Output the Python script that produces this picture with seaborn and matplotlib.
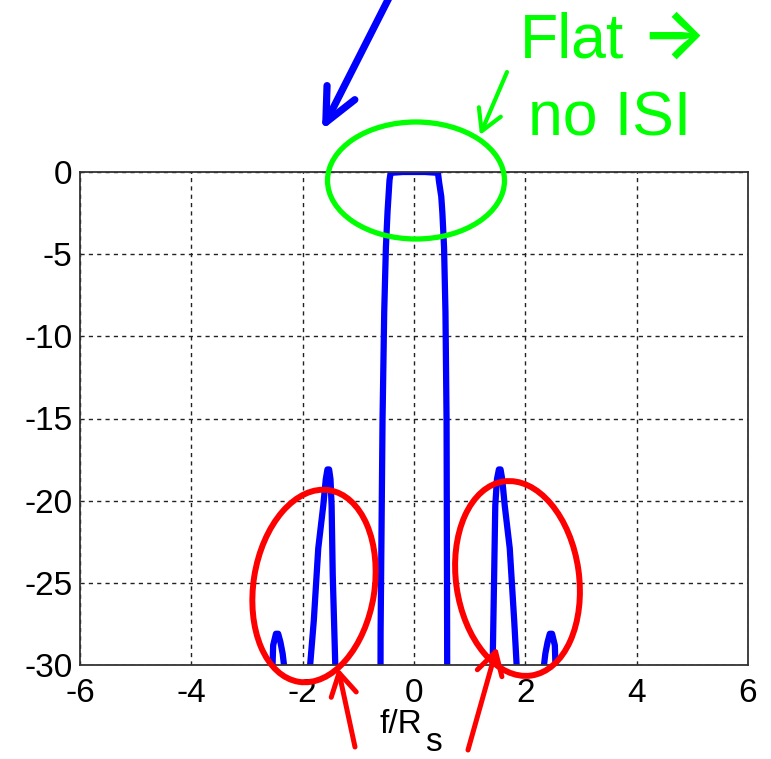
import matplotlib
matplotlib.use("Agg")
import matplotlib.pyplot as plt
import seaborn as sns
import pandas as pd
from matplotlib.patches import Ellipse, FancyArrowPatch
from matplotlib.transforms import Affine2D

# ---- data ----
freq = [-6.0, -2.60, -2.55, -2.53, -2.48, -2.44, -2.40, -2.36, -2.30, -2.10,
        -1.89, -1.80, -1.72, -1.63, -1.585, -1.555, -1.525, -1.50, -1.48, -1.46, -1.41, -1.00,
        -0.62, -0.60, -0.565, -0.535, -0.505, -0.475, -0.44, -0.42, -0.20, 0.0,
        0.20, 0.43, 0.45, 0.49, 0.51, 0.54, 0.565, 0.585, 0.595, 0.61, 1.00,
        1.41, 1.44, 1.46, 1.49, 1.525, 1.555, 1.585, 1.63, 1.72, 1.80, 1.86, 2.10,
        2.30, 2.36, 2.40, 2.44, 2.48, 2.53, 2.55, 2.60, 6.0]
mag_db = [-60, -60, -31, -28.8, -28.1, -28.1, -28.6, -29.3, -31, -50,
          -31, -27.3, -22.9, -20.3, -18.7, -18.1, -18.1, -18.7, -20.3, -24.5, -30.5, -50,
          -60, -28, -15, -8.5, -4.6, -2.4, -0.5, -0.05, 0.0, 0.0,
          0.0, -0.05, -0.6, -1.5, -2.5, -4.6, -8.5, -15.1, -28, -60, -50,
          -30.5, -24.5, -20.3, -18.7, -18.1, -18.1, -18.7, -20.3, -22.9, -27.3, -31, -50,
          -31, -29.3, -28.6, -28.1, -28.1, -28.8, -31, -60, -60]
x_ticks = [-6, -4, -2, 0, 2, 4, 6]
y_ticks = [0, -5, -10, -15, -20, -25, -30]
x_label_main = "f/R"
x_label_sub = "s"
note_flat = "Flat"
note_arrow = "\u2192"
note_isi = "no ISI"

sns.set_theme(style="white")
plt.rcParams["font.family"] = ["Liberation Sans", "DejaVu Sans"]

W, H = 771, 759
fig = plt.figure(figsize=(W / 100, H / 100), dpi=100)
fig.patch.set_facecolor("white")
ax = fig.add_axes([80 / W, 1 - 665 / H, (748 - 80) / W, (665 - 172) / H])

df = pd.DataFrame({"f": freq, "dB": mag_db})
sns.lineplot(data=df, x="f", y="dB", ax=ax, color="#0000ff", linewidth=4.5,
             sort=False, estimator=None)

ax.set_xlim(-6, 6)
ax.set_ylim(-30, 0)
ax.set_xticks(x_ticks)
ax.set_yticks(y_ticks)
ax.set_xticklabels([str(t) for t in x_ticks])
ax.set_yticklabels([str(t) for t in y_ticks])
ax.tick_params(direction="in", length=5, width=1, colors="#222222",
               labelsize=24, labelcolor="black")
ax.tick_params(axis="y", pad=5.5)
ax.tick_params(axis="x", pad=9)
ax.grid(True, color="#222222", linestyle=(0, (3, 3)), linewidth=1)
for s in ax.spines.values():
    s.set_color("#333333")
    s.set_linewidth(1.3)
ax.set_ylabel("")
ax.set_xlabel("")

# overlay in image-pixel coordinates (y downward)
T = Affine2D().scale(1 / W, -1 / H).translate(0, 1) + fig.transFigure

# x-axis label: f/R with a full-size lowered "s"
fig.text(380, 733, x_label_main, transform=T, fontsize=24, color="black",
         ha="left", va="baseline")
fig.text(425, 751, x_label_sub, transform=T, fontsize=24, color="black",
         ha="left", va="baseline")

fig.add_artist(Ellipse((416, 180.5), 177, 117, transform=T, fill=False,
                       ec="#00ff00", lw=3.8, clip_on=False))
fig.add_artist(Ellipse((314, 586), 121, 194, angle=9, transform=T, fill=False,
                       ec="#ff0000", lw=4.3, clip_on=False))
fig.add_artist(Ellipse((517.5, 578.5), 123, 196, angle=-8, transform=T, fill=False,
                       ec="#ff0000", lw=4.3, clip_on=False))

def arrow(tail, tip, color, lw, hl, hw):
    fig.add_artist(FancyArrowPatch(tail, tip, transform=T,
                                   arrowstyle=f"->,head_length={hl},head_width={hw}",
                                   mutation_scale=20, color=color, lw=lw,
                                   shrinkA=0, shrinkB=0, capstyle="round",
                                   joinstyle="round", clip_on=False))

arrow((396, -16), (322, 130), "#0000ff", 5.2, 1.2, 0.56)
arrow((507, 72), (480, 135), "#00ff00", 3.0, 0.75, 0.43)
arrow((355, 747), (338, 668), "#ff0000", 3.6, 0.8, 0.46)
arrow((468, 750), (497, 647), "#ff0000", 3.6, 0.8, 0.46)

fig.text(520, 58, note_flat, transform=T, fontsize=45, color="#00ff00",
         ha="left", va="baseline")
fig.text(640, 58, note_arrow, transform=T, fontsize=50, color="#00ff00",
         ha="left", va="baseline", family=["Inter", "DejaVu Sans"],
         fontweight=600)
fig.text(528, 135, note_isi, transform=T, fontsize=45, color="#00ff00",
         ha="left", va="baseline")

fig.savefig("out.png", dpi=100)
